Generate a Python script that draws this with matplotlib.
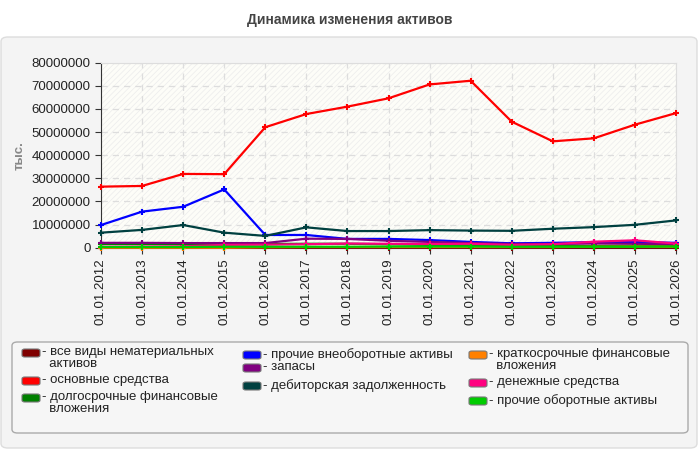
import matplotlib
matplotlib.use("Agg")
import matplotlib.pyplot as plt
from matplotlib.patches import FancyBboxPatch, Rectangle

plt.rcParams['font.family'] = ['Liberation Sans', 'DejaVu Sans']
plt.rcParams['hatch.linewidth'] = 0.5

years = ["01.01.2012", "01.01.2013", "01.01.2014", "01.01.2015", "01.01.2016",
         "01.01.2017", "01.01.2018", "01.01.2019", "01.01.2020", "01.01.2021",
         "01.01.2022", "01.01.2023", "01.01.2024", "01.01.2025", "01.01.2026"]

intangible = [40000, 40000, 40000, 50000, 50000, 50000, 50000, 50000, 50000,
              50000, 50000, 50000, 50000, 50000, 50000]
fixed_assets = [26400000, 26700000, 31900000, 31800000, 52100000, 57800000,
                61000000, 64600000, 70600000, 72200000, 54500000, 46000000,
                47300000, 53200000, 58200000]
lt_investments = [1600000, 1600000, 1600000, 1600000, 1600000, 1700000,
                  1700000, 1500000, 1200000, 1000000, 800000, 700000,
                  700000, 800000, 800000]
other_noncurrent = [9800000, 15600000, 17700000, 25200000, 5500000, 5500000,
                    3800000, 3800000, 3300000, 2500000, 1900000, 2100000,
                    2400000, 2500000, 2100000]
inventories = [2100000, 2100000, 2000000, 2000000, 2000000, 3900000, 3800000,
               3000000, 2500000, 2000000, 1600000, 1600000, 1800000, 1700000,
               1500000]
receivables = [6500000, 7700000, 9800000, 6500000, 5100000, 8800000, 7200000,
               7200000, 7600000, 7400000, 7300000, 8200000, 8900000, 9900000,
               11800000]
st_investments = [0, 0, 0, 0, 200000, 300000, 300000, 300000, 300000, 300000,
                  300000, 300000, 400000, 500000, 400000]
cash = [400000, 500000, 600000, 1200000, 1300000, 1500000, 1800000, 1700000,
        1600000, 1700000, 1200000, 1500000, 2600000, 3200000, 1800000]
other_current = [300000, 300000, 300000, 400000, 400000, 400000, 400000,
                 500000, 500000, 500000, 400000, 400000, 400000, 400000, 500000]

series = [
    ("все виды нематериальных\nактивов", intangible, "#800000"),
    ("основные средства", fixed_assets, "#ff0000"),
    ("долгосрочные финансовые\nвложения", lt_investments, "#008000"),
    ("прочие внеоборотные активы", other_noncurrent, "#0000ff"),
    ("запасы", inventories, "#800080"),
    ("дебиторская задолженность", receivables, "#004040"),
    ("краткосрочные финансовые\nвложения", st_investments, "#ff8000"),
    ("денежные средства", cash, "#ff0080"),
    ("прочие оборотные активы", other_current, "#00cc00"),
]

W, H = 700, 450


def fx(px):
    return px / W


def fy(py):
    return 1 - py / H


fig = plt.figure(figsize=(7, 4.5), dpi=100)
fig.patch.set_facecolor("white")

# grey panel behind everything
fig.patches.append(FancyBboxPatch((fx(1), fy(448)), fx(696), 411 / H,
                                  boxstyle="round,pad=0,rounding_size=0.01",
                                  transform=fig.transFigure, facecolor="#f4f4f4",
                                  edgecolor="#dddddd", lw=1, zorder=-10))

fig.text(0.5, fy(20), "Динамика изменения активов", ha="center", va="center",
         fontsize=10, fontweight="bold", color="#444444")

ax = fig.add_axes([fx(101), fy(247.7), fx(676 - 101), (247.7 - 62.7) / H])
ax.set_facecolor("#fdfdf8")
ax.add_patch(Rectangle((0, 0), 1, 1, transform=ax.transAxes, facecolor="none",
                       edgecolor="#ececec", hatch="//////", lw=0, zorder=0))

x = list(range(len(years)))
for name, vals, col in series:
    ax.plot(x, vals, color=col, lw=1.6, marker="+", ms=5, mew=1.5, zorder=3,
            clip_on=False)

ax.set_xlim(0, len(years) - 1)
ax.set_ylim(0, 80000000)
ax.set_yticks(range(0, 80000001, 10000000))
ax.set_yticklabels([str(v) for v in range(0, 80000001, 10000000)], fontsize=9.5)
ax.set_xticks(x)
ax.set_xticklabels(years, rotation=90, fontsize=9.5)
ax.grid(True, color="#dddddd", ls=(0, (5, 4)), lw=0.9)
ax.set_axisbelow(True)
for s in ["top", "right"]:
    ax.spines[s].set_color("#dddddd")
for s in ["left", "bottom"]:
    ax.spines[s].set_color("#333333")
ax.tick_params(axis="both", colors="#333333", labelcolor="#222222", length=4)
ax.set_ylabel("тыс.", fontsize=9.5, fontweight="bold", color="#888888", labelpad=4)

# legend box
fig.patches.append(FancyBboxPatch((fx(12), fy(433)), fx(676), 91 / H,
                                  boxstyle="round,pad=0,rounding_size=0.008",
                                  transform=fig.transFigure, facecolor="#f6f6f6",
                                  edgecolor="#aaaaaa", lw=1, zorder=-5))

legend_pos = [(22, 353), (22, 381), (22, 398),
              (243, 355), (243, 368), (243, 386),
              (469, 355), (469, 383), (469, 401)]
for (name, vals, col), (lx, ly) in zip(series, legend_pos):
    fig.patches.append(FancyBboxPatch((fx(lx), fy(ly + 4)), fx(18), 8 / H,
                                      boxstyle="round,pad=0,rounding_size=0.004",
                                      transform=fig.transFigure, facecolor=col,
                                      edgecolor="#777777", lw=0.8))
    fig.text(fx(lx + 20), fy(ly - 7), "- " + name.replace("\n", "\n  "),
             ha="left", va="top", fontsize=9.5, color="#222222", linespacing=1.0)

fig.savefig("out.png", dpi=100)
